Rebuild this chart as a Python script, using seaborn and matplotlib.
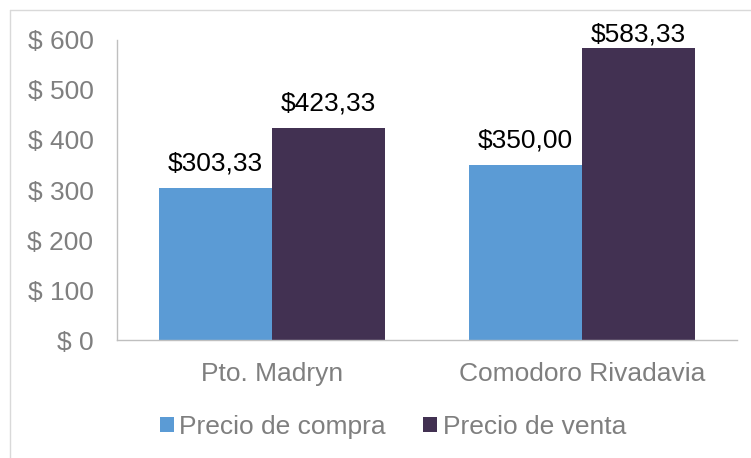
import pandas as pd
import matplotlib.pyplot as plt
import seaborn as sns
from matplotlib.lines import Line2D
from matplotlib.ticker import FuncFormatter

ciudades = ["Pto. Madryn", "Comodoro Rivadavia"]
series = ["Precio de compra", "Precio de venta"]
compra = [303.33, 350.00]
venta = [423.33, 583.33]
colores = ["#5B9BD5", "#423152"]

df = pd.DataFrame({
    "Ciudad": ciudades * 2,
    "Serie": [series[0]] * 2 + [series[1]] * 2,
    "Precio": compra + venta,
})

sns.set_style("white")
plt.rcParams["font.family"] = ["Liberation Sans", "DejaVu Sans"]

fig = plt.figure(figsize=(7.51, 4.58), dpi=100)
ax = fig.add_axes([0.1558, 0.2576, 0.8256, 0.6551])

sns.barplot(data=df, x="Ciudad", y="Precio", hue="Serie", palette=colores,
            width=0.726, saturation=1, linewidth=0, ax=ax, legend=True)

for cont in ax.containers:
    anns = ax.bar_label(cont, labels=["$" + f"{v:.2f}".replace(".", ",") for v in cont.datavalues],
                        fontsize=19, color="black", padding=9)
    # etiquetas que no caben arriba se pegan a la barra (como Excel)
    for ann, v in zip(anns, cont.datavalues):
        if v > 560:
            ann.xyann = (0, 1.5)

ax.set_ylim(0, 600)
ax.set_yticks(range(0, 601, 100))
ax.yaxis.set_major_formatter(FuncFormatter(lambda v, p: f"$ {int(v)}"))
ax.tick_params(axis="both", colors="#7F7F7F", labelsize=19, length=0)
ax.tick_params(axis="x", pad=16)
ax.tick_params(axis="y", pad=17)
ax.set_xlabel("")
ax.set_ylabel("")
for s in ["top", "right"]:
    ax.spines[s].set_visible(False)
for s in ["left", "bottom"]:
    ax.spines[s].set_color("#BFBFBF")
    ax.spines[s].set_linewidth(1)

handles, labels = ax.get_legend_handles_labels()
ax.legend(handles, labels, loc="center", bbox_to_anchor=(0.523, 0.068),
          bbox_transform=fig.transFigure, ncol=2, frameon=False,
          fontsize=19, labelcolor="#7F7F7F", handlelength=0.55, handleheight=0.55,
          handletextpad=0.2, columnspacing=1.4)

# marco exterior
fig.add_artist(Line2D([10 / 751, 10 / 751], [448 / 458, 0], color="#D9D9D9", lw=1))
fig.add_artist(Line2D([10 / 751, 1], [448 / 458, 448 / 458], color="#D9D9D9", lw=1))

fig.savefig("out.png", dpi=100)
